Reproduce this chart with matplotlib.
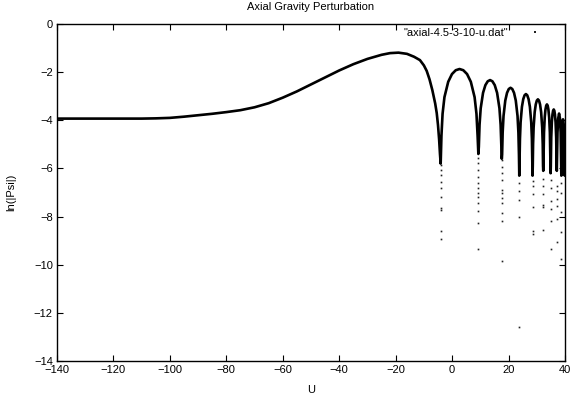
import matplotlib
matplotlib.use("Agg")
import matplotlib.pyplot as plt

plt.rcParams['font.family'] = ['Liberation Sans', 'DejaVu Sans']

title = "Axial Gravity Perturbation"
xlabel = "U"
ylabel = "ln(|Psi|)"
series_label = '"axial-4.5-3-10-u.dat"'

xticks = [-140, -120, -100, -80, -60, -40, -20, 0, 20, 40]
yticks = [0, -2, -4, -6, -8, -10, -12, -14]

# main curve (U, ln|Psi|)
u_curve = [
    -140, -130, -120, -110, -105, -100, -95, -90, -85, -80, -75, -70, -65, -60,
    -55, -50, -45, -40, -35, -30, -25, -22, -19, -16, -13.5, -11.4, -10, -9,
    -8, -7, -6, -5.45, -5.0, -4.6, -4.3, -4.05,
    -3.78, -3.38, -2.72, -1.38, -0.05, 1.29, 2.63, 3.96, 5.30, 6.63, 7.97, 8.63, 9.03, 9.3,
    9.47, 9.72, 10.13, 10.96, 11.79, 12.62, 13.45, 14.28, 15.11, 15.94, 16.77, 17.19, 17.43, 17.6,
    17.72, 17.91, 18.22, 18.84, 19.46, 20.08, 20.7, 21.32, 21.94, 22.56, 23.18, 23.49, 23.68, 23.8,
    23.89, 24.04, 24.27, 24.74, 25.21, 25.68, 26.15, 26.62, 27.09, 27.56, 28.03, 28.27, 28.41, 28.5,
    28.58, 28.69, 28.88, 29.26, 29.64, 30.02, 30.4, 30.78, 31.16, 31.54, 31.92, 32.11, 32.22, 32.3,
    32.38, 32.56, 32.82, 33.08, 33.34, 33.6, 33.86, 34.12, 34.38, 34.64, 34.82, 34.9,
    34.97, 35.12, 35.34, 35.56, 35.78, 36.0, 36.22, 36.44, 36.66, 36.88, 37.03, 37.1,
    37.18, 37.34, 37.58, 37.9, 38.22, 38.46, 38.62, 38.7,
    38.76, 38.88, 39.06, 39.3, 39.54, 39.72, 39.84, 39.9, 40.0,
]
lnpsi_curve = [
    -3.93, -3.93, -3.93, -3.93, -3.92, -3.90, -3.85, -3.79, -3.73, -3.66, -3.58, -3.46, -3.29, -3.06,
    -2.80, -2.51, -2.22, -1.93, -1.67, -1.45, -1.28, -1.21, -1.19, -1.24, -1.36, -1.50, -1.72, -1.95,
    -2.30, -2.75, -3.30, -3.70, -4.20, -4.80, -5.40, -5.80,
    -4.64, -3.73, -3.04, -2.40, -2.08, -1.92, -1.87, -1.92, -2.08, -2.40, -3.04, -3.73, -4.64, -5.40,
    -5.10, -4.19, -3.50, -2.86, -2.54, -2.38, -2.33, -2.38, -2.54, -2.86, -3.50, -4.19, -5.10, -5.60,
    -5.42, -4.51, -3.82, -3.18, -2.86, -2.70, -2.65, -2.70, -2.86, -3.18, -3.82, -4.51, -5.42, -6.30,
    -5.68, -4.77, -4.08, -3.44, -3.12, -2.96, -2.91, -2.96, -3.12, -3.44, -4.08, -4.77, -5.68, -6.30,
    -5.90, -4.99, -4.30, -3.66, -3.34, -3.18, -3.13, -3.18, -3.34, -3.66, -4.30, -4.99, -5.90, -6.10,
    -5.70, -4.51, -3.87, -3.55, -3.39, -3.34, -3.39, -3.55, -3.87, -4.51, -5.70, -6.20,
    -5.91, -4.72, -4.08, -3.76, -3.60, -3.55, -3.60, -3.76, -4.08, -4.72, -5.91, -6.10,
    -5.58, -4.51, -3.93, -3.72, -3.93, -4.51, -5.58, -6.30,
    -5.82, -4.75, -4.17, -3.96, -4.17, -4.75, -5.82, -6.30, -4.80,
]

# isolated dots below the zeros
dot_u = (
    [-4.1] * 10 + [9.3] * 12 + [17.6] * 11 + [23.8] * 5 + [28.5] * 6
    + [32.3] * 6 + [34.9] * 6 + [37.1] * 6 + [38.7] * 5
)
dot_lnpsi = [
    -5.86, -6.07, -6.27, -6.55, -6.83, -7.17, -7.63, -7.73, -8.60, -8.92,
    -5.58, -5.79, -6.07, -6.34, -6.62, -6.83, -7.03, -7.17, -7.42, -7.76, -8.28, -9.36,
    -5.65, -5.93, -6.20, -6.48, -6.90, -7.03, -7.24, -7.42, -7.87, -8.18, -9.83,
    -6.62, -6.92, -7.31, -8.00, -12.57,
    -6.51, -6.73, -7.08, -7.59, -8.59, -8.72,
    -6.45, -6.73, -7.06, -7.52, -7.59, -8.56,
    -6.50, -6.80, -7.34, -7.70, -8.17, -9.36,
    -6.73, -6.92, -7.28, -7.56, -8.11, -9.04,
    -6.60, -7.00, -7.80, -8.63, -9.78,
]

fig = plt.figure(figsize=(5.76, 3.96), dpi=100)
ax = fig.add_axes([57/576, 1 - 361/396, (565 - 57)/576, (361 - 24)/396])

ax.plot(u_curve, lnpsi_curve, color='black', lw=1.9, solid_joinstyle='round')
ax.plot(dot_u, dot_lnpsi, linestyle='none', marker='s', markersize=1.2,
        markeredgewidth=0, color='#222222', label=series_label)

ax.set_xlim(-140, 40)
ax.set_ylim(-14, 0)
ax.set_xticks(xticks)
ax.set_yticks(yticks)
ax.tick_params(direction='in', top=True, right=True, length=4, width=0.8,
               labelsize=8, pad=3)
for s in ax.spines.values():
    s.set_linewidth(1.0)

ax.set_title(title, fontsize=8, pad=10)
ax.set_xlabel(xlabel, fontsize=8, labelpad=7)
ax.set_ylabel(ylabel, fontsize=8, labelpad=13)

leg = ax.legend(loc='upper right', bbox_to_anchor=(551/576, 1 - 28/396),
                bbox_transform=fig.transFigure, frameon=False, markerfirst=False,
                fontsize=8, handlelength=2.9, handletextpad=1.0,
                borderaxespad=0, borderpad=0, markerscale=1.3)

fig.savefig("out.png", dpi=100)
